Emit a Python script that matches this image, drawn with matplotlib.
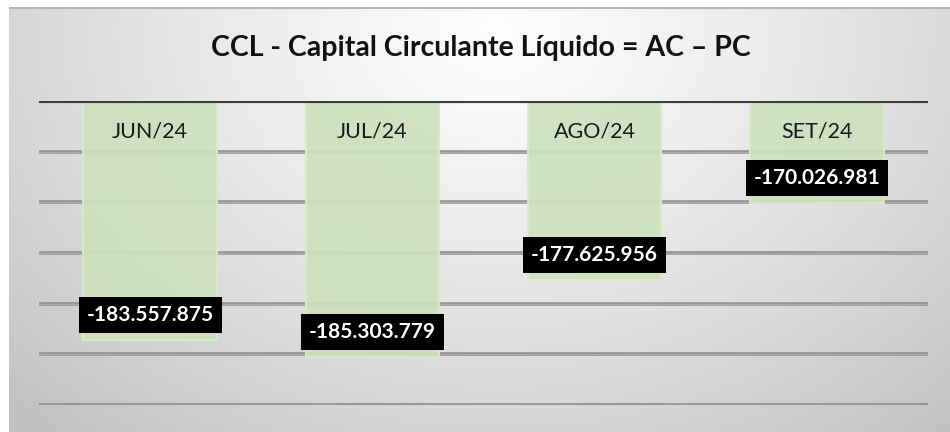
import matplotlib
matplotlib.use('Agg')
import matplotlib.pyplot as plt
import numpy as np

plt.rcParams['font.family'] = ['Lato', 'DejaVu Sans']

months = ['JUN/24', 'JUL/24', 'AGO/24', 'SET/24']
ccl    = [-183557875, -185303779, -177625956, -170026981]
labels = ['-183.557.875', '-185.303.779', '-177.625.956', '-170.026.981']
title  = 'CCL - Capital Circulante Líquido = AC – PC'

W, H = 950, 432
fig = plt.figure(figsize=(W/100, H/100), dpi=100)
fig.patch.set_facecolor('white')

# background gradient (white top centre -> grey edges)
bg = fig.add_axes([9/W, 0, 1 - 9/W, 1 - 7/H])
yy, xx = np.mgrid[0:1:200j, 0:1:400j]
d = np.sqrt(((xx - 0.52) / 0.75)**2 + ((yy - 0.05) / 1.3)**2)
g = np.clip(0.99 - 0.24 * d**1.3, 0.76, 0.99)
bg.imshow(np.dstack([g, g, g]), aspect='auto', extent=[0, 1, 1, 0])
bg.axhline(0.003, color='#b5b5b5', lw=1.5)
bg.set_axis_off()

ax = fig.add_axes([39/W, 1 - 405/H, (928 - 39)/W, (405 - 101)/H])
ax.patch.set_alpha(0)

x = np.arange(len(months))
ax.set_ylim(-190e6, -160e6)
ax.set_xlim(-0.5, len(months) - 0.5)

for v in np.arange(-190e6, -160e6, 5e6):
    ax.axhline(v, color='#939393', lw=2.6, zorder=1)
    ax.axhline(v, color='#c4c4c4', lw=0.8, zorder=1, alpha=0.5)

ax.bar(x, ccl, width=0.6, color='#cde1bd', edgecolor='#d8eacb', lw=1.5,
       alpha=0.93, zorder=2)
ax.axhline(-160e6, color='#3f3f3f', lw=3, zorder=3)

for i in x:
    ax.text(i, 1 - 31/304, months[i], transform=ax.get_xaxis_transform(),
            ha='center', va='center', fontsize=15.5, color='#1a1a1a', zorder=4)
    ax.annotate(labels[i], xy=(i, ccl[i]), xytext=(0, 18), textcoords='offset points',
                ha='center', va='center', fontsize=15, fontweight='bold', color='white',
                bbox=dict(boxstyle='square,pad=0.38', fc='black', ec='none'), zorder=5)

for s in ax.spines.values():
    s.set_visible(False)
ax.set_xticks([])
ax.set_yticks([])

fig.text(481/W, 1 - 48/H, title, ha='center', va='center',
         fontsize=20.5, fontweight='bold', color='#111111')

plt.savefig('out.png', dpi=100)
